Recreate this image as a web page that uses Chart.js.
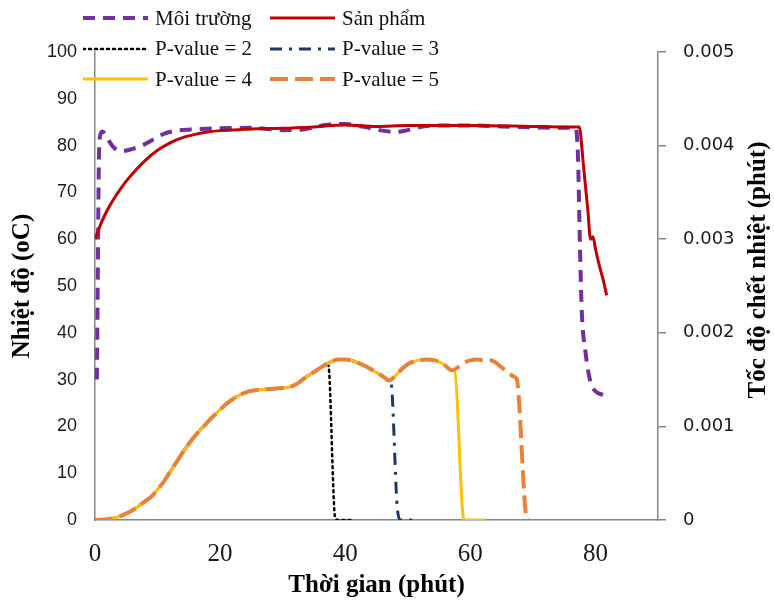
<!DOCTYPE html>
<html>
<head>
<meta charset="utf-8">
<title>Nhiệt độ và tốc độ chết nhiệt</title>
<script src="https://cdn.jsdelivr.net/npm/chart.js@4.4.1/dist/chart.umd.min.js"></script>
<style>
  html, body { margin: 0; padding: 0; background: #fff; }
  #wrap { position: relative; width: 774px; height: 604px; }
  #chart { position: absolute; left: 0; top: 0; }
  #legend {
    position: absolute; left: 83px; top: 3px;
    display: grid; grid-template-columns: 187px 200px; grid-auto-rows: 30.5px;
    font-family: "Liberation Serif", "Times New Roman", serif; font-size: 21px; color: #111;
  }
  .lg-item { display: flex; align-items: center; white-space: nowrap; }
  .lg-item svg { margin-right: 7px; flex: none; }
</style>
</head>
<body>
<div id="wrap">
  <canvas id="chart" width="774" height="604"></canvas>
  <div id="legend"></div>
</div>
<script>
// ─── Data ────────────────────────────────────────────────────
// Môi trường (nhiệt độ môi trường, trục trái)
const envTime = [0.3, 0.7, 1.2, 2, 3, 4.3, 6, 7.5, 9.3, 11, 13.6, 16, 20, 25, 30, 33, 36, 38, 40, 43, 46, 48, 50, 53, 56, 60, 65, 70, 74, 76.8, 77.2, 77.5, 77.8, 78.4, 79.2, 80, 81.3];
const envTemp = [30, 81, 83, 81.5, 79.6, 78.8, 79.3, 80, 81.3, 82.5, 83.3, 83.5, 83.7, 83.8, 83.3, 83.4, 84.2, 84.6, 84.6, 84, 83.2, 82.9, 83.3, 84.2, 84.3, 84.3, 84.1, 83.9, 83.8, 83.8, 78, 60, 45, 36, 29.5, 27.5, 26.7];

// Sản phẩm (nhiệt độ sản phẩm, trục trái)
const prodTime = [0, 1, 2, 3, 4, 5, 6, 8, 10, 12, 14, 16, 18, 20, 23, 26, 30, 35, 40, 45, 50, 55, 60, 65, 70, 74, 77.4, 78.1, 78.8, 79.2, 79.6, 80, 80.5, 81.2, 81.8];
const prodTemp = [60, 63.5, 66.3, 68.6, 70.6, 72.4, 74, 76.8, 79, 80.6, 81.7, 82.4, 82.9, 83.2, 83.4, 83.6, 83.7, 84, 84.4, 84.1, 84.3, 84.3, 84.3, 84.2, 84.1, 84, 84, 75.5, 66, 60, 60.5, 58, 55, 51.5, 48];

// Tốc độ chết nhiệt (trục phải) — đoạn chung của các đường P-value
const rateTime = [0, 1, 2, 3, 4, 5, 6, 7, 8, 9, 10, 11, 12, 13, 14, 15, 16, 17, 18, 19, 20, 21, 22, 23, 24, 25, 26, 27, 28, 29, 30, 31, 32, 33, 34, 35, 36, 37, 38, 39, 40, 41, 42, 43, 44, 45, 46, 47, 48, 49, 50, 51, 52, 53, 54, 55, 56, 57, 58, 59, 60, 61, 62, 63, 64, 65, 66, 67];
const rateBase = [0, 0.000003, 0.000008, 0.000018, 0.00004, 0.00007, 0.000105, 0.00015, 0.0002, 0.00025,
  0.000325, 0.00041, 0.000515, 0.000615, 0.00072, 0.000815, 0.0009, 0.000975, 0.001045, 0.001115,
  0.00118, 0.00124, 0.00129, 0.00133, 0.00136, 0.00138, 0.00139, 0.001395, 0.0014, 0.001405,
  0.00141, 0.00142, 0.001445, 0.00149, 0.00154, 0.00158, 0.001625, 0.001665, 0.0017, 0.001715,
  0.001715, 0.001705, 0.00168, 0.00165, 0.001615, 0.001575, 0.001535, 0.00149, 0.00154, 0.00161,
  0.001665, 0.001695, 0.00171, 0.001715, 0.00171, 0.00169, 0.00165, 0.0016, 0.00163, 0.00168,
  0.001705, 0.001715, 0.00171, 0.00171, 0.001685, 0.00163, 0.00158, 0.00153];

// Phần rơi xuống 0 của từng đường
const p2Time = [37.3, 38.4, 39, 41.3];
const p2Rate = [0.001655, 0.00002, 0, 0];
const p3Time = [47.3, 48.3, 48.8, 51.5];
const p3Rate = [0.00148, 0.00015, 0, 0];
const p4Time = [57.5, 58.9, 59.2, 62.4];
const p4Rate = [0.00159, 0.00002, 0, 0];
const p5Time = [67.4, 69, 69.3];
const p5Rate = [0.00151, 0.00002, 0];

const xTicks = [0, 20, 40, 60, 80];

// ─── Helpers ─────────────────────────────────────────────────
function pts(xs, ys) {
  return xs.map((x, i) => ({ x, y: ys[i] }));
}

// đường P-value = đoạn chung đến trước điểm rơi + phần rơi riêng
function pSeries(tailTime, tailRate) {
  const head = pts(rateTime, rateBase).filter(p => p.x < tailTime[0]);
  return head.concat(pts(tailTime, tailRate));
}

const SERIF = '"Liberation Serif", "Times New Roman", serif';

const datasets = [
  { label: 'Môi trường', data: pts(envTime, envTemp), yAxisID: 'y',
    borderColor: '#7030A0', borderWidth: 4, borderDash: [12, 8], order: 6 },
  { label: 'Sản phẩm', data: pts(prodTime, prodTemp), yAxisID: 'y',
    borderColor: '#C00000', borderWidth: 3, order: 5 },
  { label: 'P-value = 2', data: pSeries(p2Time, p2Rate), yAxisID: 'y2',
    borderColor: '#000000', borderWidth: 2.5, borderDash: [2, 4], borderCapStyle: 'round', order: 4 },
  { label: 'P-value = 3', data: pSeries(p3Time, p3Rate), yAxisID: 'y2',
    borderColor: '#1F3864', borderWidth: 3, borderDash: [12, 7, 3, 7], order: 3 },
  { label: 'P-value = 4', data: pSeries(p4Time, p4Rate), yAxisID: 'y2',
    borderColor: '#FFC000', borderWidth: 3, order: 2 },
  { label: 'P-value = 5', data: pSeries(p5Time, p5Rate), yAxisID: 'y2',
    borderColor: '#E8823A', borderWidth: 4, borderDash: [18, 7], order: 1 },
];
datasets.forEach(ds => {
  ds.pointRadius = 0;
  ds.fill = false;
  ds.cubicInterpolationMode = 'monotone';
});

// ─── Legend (HTML, 2 cột) ────────────────────────────────────
function buildLegend() {
  const el = document.getElementById('legend');
  datasets.forEach(ds => {
    const item = document.createElement('div');
    item.className = 'lg-item';
    const dash = ds.borderDash ? ds.borderDash.join(' ') : 'none';
    const cap = ds.borderCapStyle === 'round' ? 'round' : 'butt';
    item.innerHTML =
      `<svg width="65" height="10"><line x1="0" y1="5" x2="65" y2="5" stroke="${ds.borderColor}"
        stroke-width="${ds.borderWidth}" stroke-dasharray="${dash}" stroke-linecap="${cap}"/></svg>` +
      `<span>${ds.label}</span>`;
    el.appendChild(item);
  });
}

// ─── Right axis title (đọc từ dưới lên) ──────────────────────
const rightTitle = {
  id: 'rightTitle',
  afterDraw(chart) {
    const ctx = chart.ctx;
    const s = chart.scales.y2;
    ctx.save();
    ctx.translate(s.right - 15, (s.top + s.bottom) / 2 - 16);
    ctx.rotate(-Math.PI / 2);
    ctx.font = `bold 25px ${SERIF}`;
    ctx.fillStyle = '#000';
    ctx.textAlign = 'center';
    ctx.textBaseline = 'middle';
    ctx.fillText('Tốc độ chết nhiệt (phút)', 0, 0);
    ctx.restore();
  }
};

// ─── Chart ───────────────────────────────────────────────────
const AXIS = '#868686';

new Chart(document.getElementById('chart'), {
  type: 'line',
  data: { datasets },
  plugins: [rightTitle],
  options: {
    responsive: false,
    animation: false,
    layout: { padding: { top: 52, left: 0, right: 0, bottom: 0 } },
    plugins: { legend: { display: false }, tooltip: { enabled: false } },
    scales: {
      x: {
        type: 'linear', min: 0, max: 90,
        afterFit: s => { s.height = 84; },
        afterBuildTicks: s => { s.ticks = xTicks.map(v => ({ value: v })); },
        border: { color: AXIS, width: 1.5 },
        grid: { display: false },
        ticks: { padding: 11, color: '#1a1a1a', font: { family: SERIF, size: 25 } },
        title: { display: true, text: 'Thời gian (phút)', color: '#000',
          font: { family: SERIF, size: 25, weight: 'bold' }, padding: { top: 0, bottom: 3 } }
      },
      y: {
        position: 'left', min: 0, max: 100,
        afterFit: s => { s.width = 95; },
        border: { color: AXIS, width: 1.5 },
        grid: { drawOnChartArea: false, drawTicks: false },
        ticks: { stepSize: 10, padding: 18, color: '#1a1a1a',
          font: { family: '"Liberation Sans", sans-serif', size: 18 } },
        title: { display: true, text: 'Nhiệt độ (oC)', color: '#000',
          font: { family: SERIF, size: 25, weight: 'bold' }, padding: { top: 8, bottom: 0 } }
      },
      y2: {
        position: 'right', min: 0, max: 0.005,
        afterFit: s => { s.width = 116; },
        border: { color: AXIS, width: 1.5 },
        grid: { drawOnChartArea: false, drawTicks: true, tickLength: 8, color: AXIS, lineWidth: 1.5 },
        ticks: { stepSize: 0.001, padding: 17, color: '#1a1a1a',
          font: { family: '"DejaVu Sans", sans-serif', size: 18 },
          callback: v => (v === 0 ? '0' : v.toFixed(3)) }
      }
    }
  }
});

buildLegend();
</script>
</body>
</html>
